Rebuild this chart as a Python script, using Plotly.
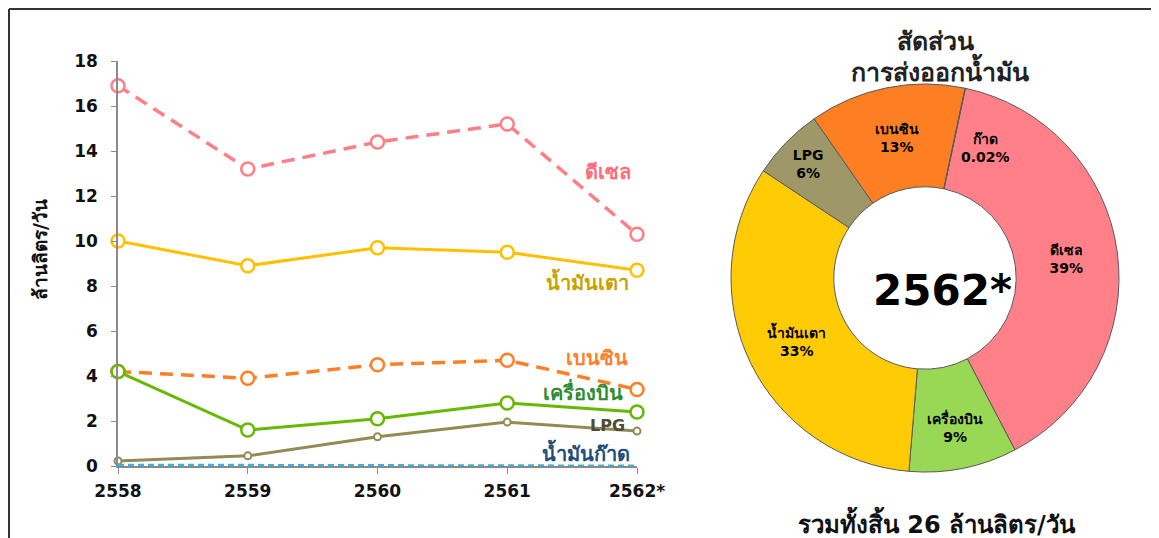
import plotly.graph_objects as go

W, H = 1159, 538
OX, OY = 8, 8  # page body margin offset


def px(x):
    return (x - OX) / W


def py(y):
    return 1 - (y - OY) / H


# ---------------- data ----------------
years = ["2558", "2559", "2560", "2561", "2562*"]
diesel = [16.9, 13.2, 14.4, 15.2, 10.3]
fuel_oil = [10.0, 8.9, 9.7, 9.5, 8.7]
gasoline = [4.2, 3.9, 4.5, 4.7, 3.4]
jet = [4.2, 1.6, 2.1, 2.8, 2.4]
lpg = [0.22, 0.45, 1.3, 1.95, 1.55]
kerosene = [0.05, 0.05, 0.03, 0.02, 0.01]

pie_labels = ["ดีเซล", "เครื่องบิน", "น้ำมันเตา", "LPG", "เบนซิน", "ก๊าด"]
pie_values = [39, 9, 33, 6, 13, 0.02]
pie_text = ["ดีเซล<br>39%", "เครื่องบิน<br>9%", "น้ำมันเตา<br>33%", "LPG<br>6%", "เบนซิน<br>13%", ""]
pie_colors = ["#FF8088", "#99D855", "#FFCB05", "#9E9868", "#FD7F22", "#FF8088"]

FONT = "Tahoma, DejaVu Sans, sans-serif"

fig = go.Figure()

x_idx = list(range(len(years)))

series = [
    ("ดีเซล", diesel, "#FF7F86", "13px,8px", 3.5, 13),
    ("น้ำมันเตา", fuel_oil, "#FFC000", "solid", 3, 13),
    ("เบนซิน", gasoline, "#FF7F27", "13px,8px", 3.5, 13),
    ("เครื่องบิน", jet, "#66B800", "solid", 3, 13),
    ("LPG", lpg, "#948A54", "solid", 3, 7),
    ("น้ำมันก๊าด", kerosene, "#33B5E5", "6px,4px", 2.5, 0),
]
for name, vals, col, dash, lw, ms in series:
    fig.add_trace(go.Scatter(
        x=x_idx, y=vals, name=name,
        mode="lines+markers" if ms else "lines",
        line=dict(color=col, width=lw, dash=dash),
        marker=dict(symbol="circle", size=ms, color="white",
                    line=dict(color=col, width=2.5 if ms > 8 else 2)),
        cliponaxis=False, showlegend=False,
        xaxis="x", yaxis="y",
    ))

CX, CY, R = 925, 278, 194
fig.add_trace(go.Pie(
    labels=pie_labels, values=pie_values, text=pie_text,
    textinfo="text", textposition="inside", insidetextorientation="horizontal",
    sort=False, direction="clockwise", rotation=12, hole=0.47,
    marker=dict(colors=pie_colors, line=dict(color="#5a5a5a", width=1)),
    textfont=dict(family=FONT, size=14, color="black", weight="bold"),
    domain=dict(x=[px(CX - R), px(CX + R)], y=[py(CY + R), py(CY - R)]),
    showlegend=False, automargin=False,
))

fig.update_layout(
    width=W, height=H,
    margin=dict(l=0, r=0, t=0, b=0, pad=0, autoexpand=False),
    paper_bgcolor="white", plot_bgcolor="white",
    font=dict(family=FONT, color="#111"),
    xaxis=dict(
        domain=[px(118), px(637)], range=[0, 4],
        tickvals=x_idx, ticktext=years,
        showgrid=False, zeroline=False, automargin=False,
        showline=True, linecolor="#8a8a8a", linewidth=1.5,
        ticks="outside", ticklen=6, tickcolor="#8a8a8a", ticklabelstandoff=3,
        tickfont=dict(family=FONT, size=17, color="#111", weight="bold"),
        anchor="y",
    ),
    yaxis=dict(
        domain=[py(466), py(61)], range=[0, 18], dtick=2,
        showgrid=False, zeroline=False, automargin=False,
        showline=True, linecolor="#8a8a8a", linewidth=1.5,
        ticks="outside", ticklen=5, tickcolor="#8a8a8a", ticklabelstandoff=10,
        tickfont=dict(family=FONT, size=17, color="#111", weight="bold"),
        anchor="x",
    ),
)


def note(text, x, y, size, color, xref="paper", yref="paper", angle=0):
    fig.add_annotation(x=x, y=y, xref=xref, yref=yref, text=text, showarrow=False,
                       xanchor="center", yanchor="middle", textangle=angle,
                       font=dict(family=FONT, size=size, color=color, weight="bold"))


# series labels on the line chart
labels = [
    ("ดีเซล", 3.78, 13.07, "#FF6B78", 20),
    ("น้ำมันเตา", 3.62, 8.22, "#C9A100", 20),
    ("เบนซิน", 3.69, 4.8, "#FF7F27", 20),
    ("เครื่องบิน", 3.58, 3.29, "#2E8B2E", 20),
    ("LPG", 3.77, 1.82, "#4F4A35", 16),
    ("น้ำมันก๊าด", 3.61, 0.58, "#1F4E79", 20),
]
for t, xx, yy, c, s in labels:
    note(t, xx, yy, s, c, xref="x", yref="y")

# y-axis title
note("ล้านลิตร/วัน", px(40), py(250), 19, "#111", angle=-90)

# pie titles
note("สัดส่วน", px(935), py(42), 25, "#222")
note("การส่งออกน้ำมัน", px(940), py(70), 25, "#222")
# centre label
note("2562*", px(942), py(290), 42, "black")
# kerosene label
note("ก๊าด<br>0.02%", px(985), py(148), 14, "black")
# total
note("รวมทั้งสิ้น 26 ล้านลิตร/วัน", px(937), py(522), 24, "#111")

# frame
fig.add_shape(type="line", xref="paper", yref="paper",
              x0=1 / W, x1=1 / W, y0=0, y1=1 - 1 / H,
              line=dict(color="#333", width=2))
fig.add_shape(type="line", xref="paper", yref="paper",
              x0=1 / W, x1=1, y0=1 - 1 / H, y1=1 - 1 / H,
              line=dict(color="#333", width=2))

fig.write_html("out.html")
